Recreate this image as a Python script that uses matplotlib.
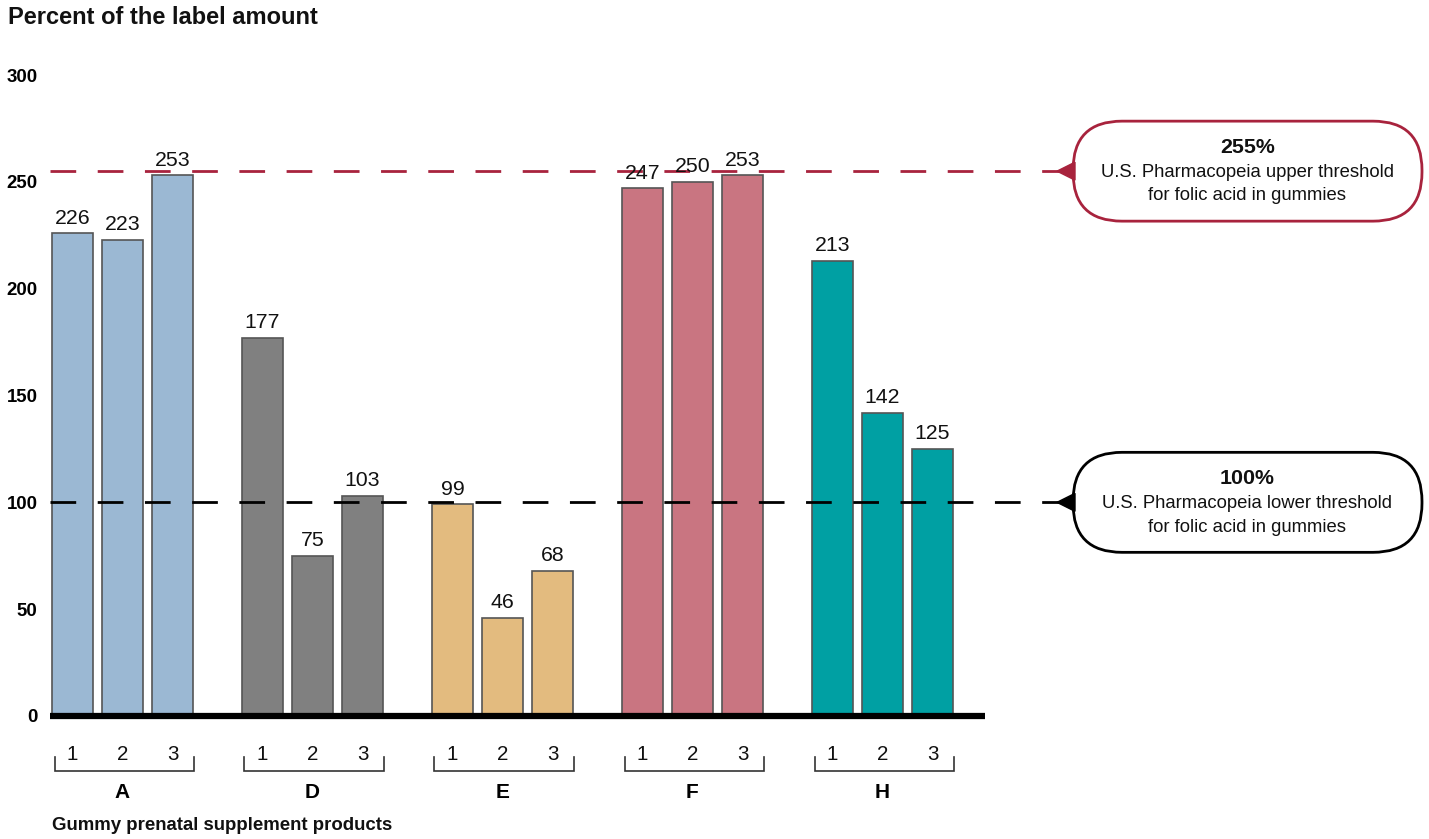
import matplotlib
matplotlib.use("Agg")
import matplotlib.pyplot as plt
from matplotlib.patches import FancyBboxPatch, Polygon
import numpy as np

plt.rcParams['font.family'] = ['Liberation Sans', 'DejaVu Sans']
plt.rcParams['lines.scale_dashes'] = False

# ---- data ----
groups = ["A", "D", "E", "F", "H"]
sub_labels = ["1", "2", "3"]
values = {
    "A": [226, 223, 253],
    "D": [177, 75, 103],
    "E": [99, 46, 68],
    "F": [247, 250, 253],
    "H": [213, 142, 125],
}
group_colors = ["#9BB8D3", "#808080", "#E3BB7F", "#C97581", "#00A0A3"]
thresholds = [255, 100]
threshold_colors = ["#A8233D", "#000000"]
threshold_titles = ["255%", "100%"]
threshold_texts = ["U.S. Pharmacopeia upper threshold\nfor folic acid in gummies",
                   "U.S. Pharmacopeia lower threshold\nfor folic acid in gummies"]
yticks = [0, 50, 100, 150, 200, 250, 300]

W, H = 1429, 839
fig = plt.figure(figsize=(W / 100, H / 100), dpi=100)

ax_left, ax_right = 50, 985
ax_bottom, ax_top = 716, 75
ax = fig.add_axes([ax_left / W, (H - ax_bottom) / H, (ax_right - ax_left) / W, (ax_bottom - ax_top) / H])

group_step = 3.8
bar_w = 0.82
x_left = -0.45
unit_px = 50.0
x_right = x_left + (ax_right - ax_left) / unit_px
ax.set_xlim(x_left, x_right)
ax.set_ylim(0, 300)

for g, (name, col) in enumerate(zip(groups, group_colors)):
    xs = g * group_step + np.arange(3)
    vals = values[name]
    ax.bar(xs, vals, width=bar_w, color=col, edgecolor="#555555", linewidth=1.2, zorder=2, clip_on=False)
    for x, v in zip(xs, vals):
        ax.annotate(str(v), (x, v), xytext=(0, 4), textcoords="offset points",
                    ha="center", va="bottom", fontsize=15.3, color="#111111", zorder=4)
    # bottom sub labels and brackets
    for x, s in zip(xs, sub_labels):
        ax.text(x, -18.0, s, ha="center", va="center", fontsize=14.8, color="#111111", clip_on=False)
    bl = xs[0] - bar_w / 2 + 0.05
    br = xs[-1] + bar_w / 2 + 0.02
    ax.plot([bl, bl, br, br], [-19.3, -25.7, -25.7, -19.3], color="#333333", lw=1.2,
            clip_on=False, solid_joinstyle="miter")
    ax.text(xs[1], -35.8, name, ha="center", va="center", fontsize=15, fontweight="bold", clip_on=False)

# thick baseline
ax.plot([x_left, x_right], [0, 0], color="black", lw=4.5, solid_capstyle="butt", clip_on=False, zorder=5)

# y ticks
ax.set_yticks(yticks)
ax.set_yticklabels([str(t) for t in yticks], fontsize=13.4, fontweight="bold")
ax.tick_params(axis="y", length=0, pad=9)
ax.set_xticks([])
for sp in ax.spines.values():
    sp.set_visible(False)
ax.patch.set_alpha(0)

# overlay in pixel coords (y up)
ov = fig.add_axes([0, 0, 1, 1])
ov.set_xlim(0, W)
ov.set_ylim(0, H)
ov.axis("off")
ov.patch.set_alpha(0)

line_end_px = 1060
x_end_data = x_left + (line_end_px - ax_left) / unit_px
for thr, col, ttl, txt in zip(thresholds, threshold_colors, threshold_titles, threshold_texts):
    ax.plot([x_left, x_end_data], [thr, thr], color=col, lw=2, dashes=(18.5, 15.5),
            clip_on=False, zorder=3)
    ypix = fig.transFigure.inverted().transform(ax.transData.transform((0, thr)))[1] * H
    bx0, bx1 = 1073, 1422
    bh = 100
    box = FancyBboxPatch((bx0, ypix - bh / 2), (bx1 - bx0), bh,
                         boxstyle=f"round,pad=0,rounding_size={bh/2 - 1}",
                         fc="white", ec=col, lw=2, zorder=3)
    ov.add_patch(box)
    tri = Polygon([[1057, ypix], [1075, ypix + 9], [1075, ypix - 9]], closed=True,
                  fc=col, ec=col, lw=1, zorder=4)
    ov.add_patch(tri)
    cx = (bx0 + bx1) / 2
    ov.text(cx, ypix + 24, ttl, ha="center", va="center", fontsize=15.4, fontweight="bold", color="#111111", zorder=5)
    ov.text(cx, ypix - 13, txt, ha="center", va="center", fontsize=13.3, color="#111111",
            linespacing=1.5, zorder=5)

fig.text(8 / W, 1 - 17 / H, "Percent of the label amount", ha="left", va="center",
         fontsize=17, fontweight="bold", color="#111111")
fig.text(52 / W, 1 - 826 / H, "Gummy prenatal supplement products", ha="left", va="center",
         fontsize=13.4, fontweight="bold", color="#111111")

fig.savefig("out.png", dpi=100, facecolor="white")
